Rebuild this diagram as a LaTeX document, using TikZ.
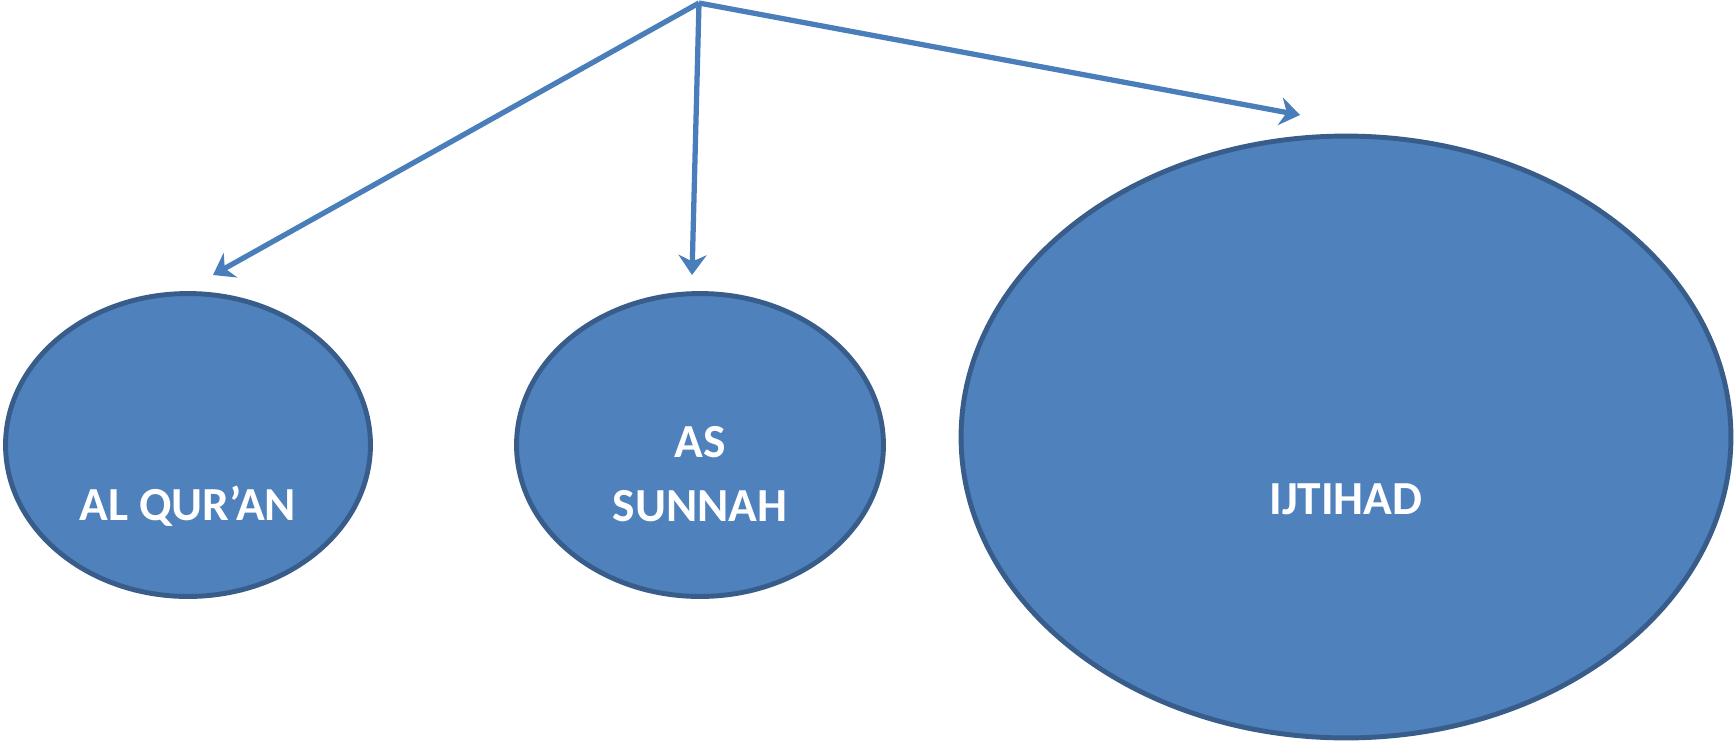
\documentclass[tikz,border=0pt]{standalone}
\usepackage{fontspec}
\setmainfont{Carlito}
\usepackage{tikz}
\usetikzlibrary{arrows.meta,shapes.geometric,positioning}
\definecolor{srcfill}{HTML}{4F81BD}
\definecolor{srcline}{HTML}{385D8A}
\definecolor{arrowblue}{HTML}{4A7EBB}

\begin{document}
\begin{tikzpicture}[x=0.02cm,y=-0.02cm,
  source/.style={ellipse,draw=srcline,fill=srcfill,line width=2.8pt,inner sep=0pt},
  lbl/.style={text=white,font=\fontsize{27}{36}\selectfont\bfseries,align=center},
  link/.style={draw=arrowblue,line width=3pt,-{Stealth[length=0.4cm,width=0.56cm,inset=0.13cm]}}]
\useasboundingbox (0,0) rectangle (1735,741);
\node[source,minimum width=7.3cm,minimum height=6.06cm] (quran) at (188,445) {};
\node[source,minimum width=7.34cm,minimum height=6.06cm] (sunnah) at (700,445) {};
\node[source,minimum width=15.4cm,minimum height=12.04cm] (ijtihad) at (1346,437) {};
\node[lbl] (tquran) at (188,506) {AL QUR’AN};
\node[lbl] (tsunnah) at (700,474) {AS\\SUNNAH};
\node[lbl] (tijtihad) at (1346,499) {IJTIHAD};
% arrows from the common top point
\coordinate (top) at (699,3);
\coordinate (e1) at (213,275);
\coordinate (e2) at (692,275);
\coordinate (e3) at (1300,115);
\draw[link] (top) -- (e1);
\draw[link] (top) -- (e2);
\draw[link] (top) -- (e3);
\end{tikzpicture}
\end{document}
